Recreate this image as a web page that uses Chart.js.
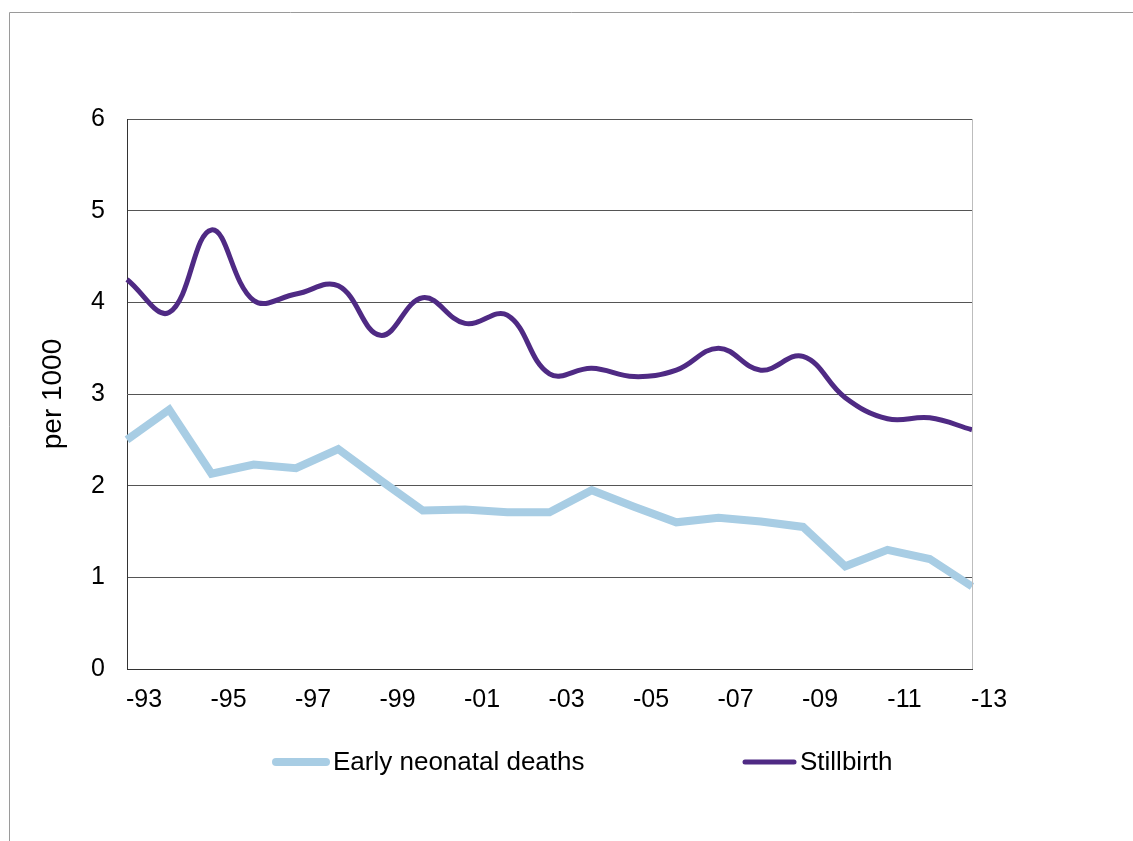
<!DOCTYPE html>
<html>
<head>
<meta charset="utf-8">
<script src="https://cdn.jsdelivr.net/npm/chart.js@4/dist/chart.umd.min.js"></script>
<style>
  html, body { margin: 0; padding: 0; background: #fff; }
  #wrap { width: 1133px; height: 841px; position: relative; }
</style>
</head>
<body>
<div id="wrap"><canvas id="c" width="1133" height="841"></canvas></div>
<script>
// Years 1993–2013, shown as two-digit labels
const years = ['-93','-94','-95','-96','-97','-98','-99','-00','-01','-02','-03',
               '-04','-05','-06','-07','-08','-09','-10','-11','-12','-13'];

// Rates per 1000 births
const earlyNeonatal = [2.50, 2.83, 2.13, 2.23, 2.19, 2.40, 2.06, 1.73, 1.74, 1.71, 1.71,
                       1.95, 1.77, 1.60, 1.65, 1.61, 1.55, 1.12, 1.30, 1.20, 0.90];
const stillbirth    = [4.25, 3.89, 4.79, 4.02, 4.09, 4.18, 3.64, 4.05, 3.77, 3.86, 3.22,
                       3.28, 3.19, 3.26, 3.50, 3.26, 3.41, 2.96, 2.73, 2.74, 2.61];

const yTicks = [0, 1, 2, 3, 4, 5, 6];

const FONT = '"Liberation Sans", Arial, Helvetica, sans-serif';
const BLUE = '#a8cde4';
const PURPLE = '#4f2a84';

// Outer frame, right plot edge and the bottom legend
const decor = {
  id: 'decor',
  beforeDraw(chart) {
    const ctx = chart.ctx;
    ctx.save();
    ctx.fillStyle = '#fff';
    ctx.fillRect(0, 0, chart.width, chart.height);
    ctx.strokeStyle = '#9a9a9a';
    ctx.lineWidth = 1;
    ctx.beginPath();
    ctx.moveTo(9.5, chart.height);
    ctx.lineTo(9.5, 12.5);
    ctx.lineTo(chart.width, 12.5);
    ctx.stroke();
    ctx.restore();
  },
  afterDraw(chart) {
    const ctx = chart.ctx;
    const a = chart.chartArea;
    ctx.save();
    ctx.strokeStyle = '#bdbdbd';
    ctx.lineWidth = 1;
    ctx.beginPath();
    ctx.moveTo(Math.round(a.right) + 0.5, a.top);
    ctx.lineTo(Math.round(a.right) + 0.5, a.bottom);
    ctx.stroke();

    const items = [
      { ds: chart.data.datasets[0], x0: 276, x1: 326, tx: 333 },
      { ds: chart.data.datasets[1], x0: 745, x1: 794, tx: 800 }
    ];
    const ly = 762;
    ctx.lineCap = 'round';
    ctx.font = '26px ' + FONT;
    ctx.textBaseline = 'middle';
    ctx.textAlign = 'left';
    items.forEach(it => {
      ctx.strokeStyle = it.ds.borderColor;
      ctx.lineWidth = it.ds.borderWidth;
      ctx.beginPath();
      ctx.moveTo(it.x0, ly);
      ctx.lineTo(it.x1, ly);
      ctx.stroke();
      ctx.fillStyle = '#000';
      ctx.fillText(it.ds.label, it.tx, ly + 1);
    });
    ctx.restore();
  }
};

new Chart(document.getElementById('c'), {
  type: 'line',
  data: {
    labels: years,
    datasets: [
      {
        label: 'Early neonatal deaths',
        data: earlyNeonatal,
        borderColor: BLUE,
        borderWidth: 8,
        tension: 0,
        pointRadius: 0,
        borderJoinStyle: 'miter',
        fill: false
      },
      {
        label: 'Stillbirth',
        data: stillbirth,
        borderColor: PURPLE,
        borderWidth: 5,
        tension: 0.4,
        pointRadius: 0,
        fill: false
      }
    ]
  },
  options: {
    responsive: false,
    animation: false,
    events: [],
    layout: { padding: { left: 0, top: 119, right: 161, bottom: 0 } },
    plugins: {
      legend: { display: false },
      tooltip: { enabled: false }
    },
    scales: {
      x: {
        offset: false,
        grid: { display: false, drawTicks: false },
        border: { display: true, color: '#333', width: 1 },
        ticks: {
          autoSkip: false,
          maxRotation: 0,
          padding: 16,
          labelOffset: 17,
          color: '#000',
          font: { family: FONT, size: 25 },
          callback: (v, i) => (i % 2 === 0 ? years[i] : '')
        },
        afterFit(scale) { scale.height = 172; }
      },
      y: {
        min: 0,
        max: 6,
        afterBuildTicks(scale) { scale.ticks = yTicks.map(v => ({ value: v })); },
        grid: { color: '#555', lineWidth: 1, drawTicks: false },
        border: { display: true, color: '#333', width: 1 },
        ticks: {
          padding: 22,
          color: '#000',
          font: { family: FONT, size: 25 }
        },
        title: {
          display: true,
          text: 'per 1000',
          color: '#000',
          font: { family: FONT, size: 28 },
          padding: { top: 36, bottom: 0 }
        },
        afterFit(scale) { scale.width = 127; }
      }
    }
  },
  plugins: [decor]
});
</script>
</body>
</html>
